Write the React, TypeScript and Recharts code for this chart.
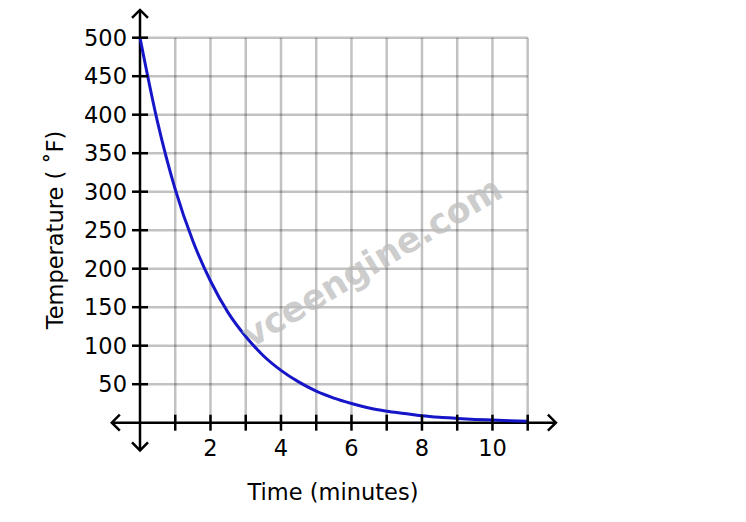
import { LineChart, Line, XAxis, YAxis, CartesianGrid, ReferenceLine } from "recharts";

// temperature (°F), every half minute
const times = [0, 0.5, 1, 1.5, 2, 2.5, 3, 3.5, 4, 4.5, 5, 5.5, 6, 6.5, 7, 7.5, 8, 8.5, 9, 9.5, 10, 10.5, 11];
const temps = [500, 390, 303, 236, 184, 143, 112, 87, 68, 53, 41, 32, 25, 19, 15, 12, 9, 7, 5.6, 4.3, 3.4, 2.6, 2];

const xTicks = [1, 2, 3, 4, 5, 6, 7, 8, 9, 10, 11];
const xLabels = [2, 4, 6, 8, 10];
const yTicks = [50, 100, 150, 200, 250, 300, 350, 400, 450, 500];

const data = times.map((t, i) => ({ t, temp: temps[i] }));

const FONT = "DejaVu Sans";
const FS = 22.5;

const XTick = (props: any) => {
  const { x, y, payload } = props;
  return (
    <g>
      <line x1={x} x2={x} y1={y - 8} y2={y + 8} stroke="#000" strokeWidth={2.5} />
      {xLabels.includes(payload.value) && (
        <text x={x} y={y + 33} textAnchor="middle" fontFamily={FONT} fontSize={FS} fill="#000">
          {payload.value}
        </text>
      )}
    </g>
  );
};

const YTick = (props: any) => {
  const { x, y, payload } = props;
  return (
    <g>
      <line x1={x - 8} x2={x + 8} y1={y} y2={y} stroke="#000" strokeWidth={2.5} />
      <text x={x - 13} y={y + 8} textAnchor="end" fontFamily={FONT} fontSize={FS} fill="#000">
        {payload.value}
      </text>
    </g>
  );
};

const ArrowAxis = (props: any) => {
  const { x1, y1, x2, y2 } = props;
  const horizontal = Math.abs(y1 - y2) < 1;
  const a = 8;
  return (
    <g stroke="#000" strokeWidth={2.5} fill="none">
      <line x1={x1} y1={y1} x2={x2} y2={y2} />
      {horizontal ? (
        <>
          <polyline points={`${x1 + a},${y1 - a} ${x1},${y1} ${x1 + a},${y1 + a}`} />
          <polyline points={`${x2 - a},${y2 - a} ${x2},${y2} ${x2 - a},${y2 + a}`} />
        </>
      ) : (
        <>
          <polyline points={`${x1 - a},${y1 - a} ${x1},${y1} ${x1 + a},${y1 - a}`} />
          <polyline points={`${x2 - a},${y2 + a} ${x2},${y2} ${x2 + a},${y2 + a}`} />
        </>
      )}
    </g>
  );
};

export default function App() {
  return (
    <div style={{ position: "absolute", left: 0, top: 0, background: "#fff" }}>
      <LineChart
        width={746}
        height={522}
        data={data}
        margin={{ top: 37.7, right: 218.3, bottom: 69.3, left: 80 }}
      >
        <CartesianGrid
          stroke="#000"
          strokeOpacity={0.24}
          strokeWidth={2.5}
          horizontalValues={yTicks}
          verticalValues={xTicks}
        />
        <XAxis
          dataKey="t"
          type="number"
          domain={[0, 11]}
          ticks={xTicks}
          axisLine={false}
          tickLine={false}
          tickSize={0}
          tickMargin={0}
          height={30}
          tick={<XTick />}
          interval={0}
        />
        <YAxis
          type="number"
          domain={[0, 500]}
          ticks={yTicks}
          axisLine={false}
          tickLine={false}
          tickSize={0}
          tickMargin={0}
          width={60}
          tick={<YTick />}
          interval={0}
        />
        <ReferenceLine
          segment={[{ x: -0.8, y: 0 }, { x: 11.8, y: 0 }]}
          ifOverflow="visible"
          shape={<ArrowAxis />}
        />
        <ReferenceLine
          segment={[{ x: 0, y: -36 }, { x: 0, y: 536 }]}
          ifOverflow="visible"
          shape={<ArrowAxis />}
        />
        <Line
          dataKey="temp"
          type="monotone"
          stroke="#1616c8"
          strokeWidth={3}
          dot={false}
          isAnimationActive={false}
        />
      </LineChart>
      <div
        style={{
          position: "absolute",
          left: 0,
          top: 0,
          width: 746,
          height: 522,
          pointerEvents: "none",
        }}
      >
        <svg width={746} height={522}>
          <text
            x={55}
            y={230}
            transform="rotate(-90 55 230)"
            textAnchor="middle"
            dominantBaseline="central"
            fontFamily={FONT}
            fontSize={FS}
            fill="#000"
          >
            Temperature ( ˚F)
          </text>
          <text x={333} y={500} textAnchor="middle" fontFamily={FONT} fontSize={FS} fill="#000">
            Time (minutes)
          </text>
          <text
            x={372}
            y={262}
            transform="rotate(-31 372 262)"
            textAnchor="middle"
            dominantBaseline="central"
            fontFamily={FONT}
            fontWeight="bold"
            fontSize={35}
            fill="#bdbdbd"
            fillOpacity={0.75}
          >
            vceengine.com
          </text>
        </svg>
      </div>
    </div>
  );
}
